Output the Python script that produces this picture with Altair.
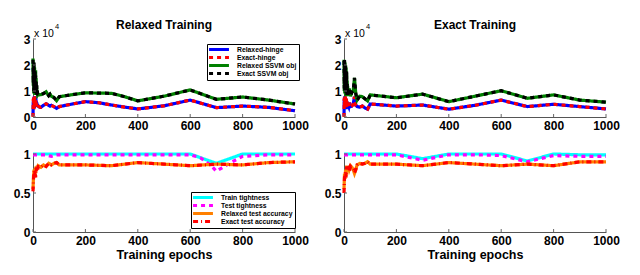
import altair as alt
import pandas as pd

F = "Liberation Sans"

# ---------------- axis ticks / labels ----------------
x_ticks = [0, 200, 400, 600, 800, 1000]
top_y_ticks = [0, 1, 2, 3]
bot_y_ticks = [0, 0.5, 1]
multiplier_text = ["x 10", "4"]
panel_titles = ["Relaxed Training", "Exact Training"]
x_title = "Training epochs"

# ---------------- series names / styles ----------------
top_series = ["Relaxed-hinge", "Exact-hinge", "Relaxed SSVM obj", "Exact SSVM obj"]
top_colors = ["#0000ff", "#ff0000", "#008000", "#000000"]
top_dashes = [[1, 0], [4, 4], [1, 0], [4, 4]]
bot_series = ["Train tightness", "Test tightness", "Relaxed test accuracy", "Exact test accuracy"]
bot_colors = ["#00ffff", "#ff00ff", "#ff8000", "#ff0000"]
bot_dashes = [[1, 0], [4, 4], [1, 0], [5, 3, 1, 3]]

# ---------------- top-left: Relaxed Training (values x 10^4) ----------------
ep_tl = [0, 1, 2, 3, 4, 5, 6, 7, 8, 9, 10, 11, 12, 13, 14, 15, 16, 18, 20, 25, 30,
         40, 50, 60, 65, 70, 80, 90, 100, 150, 200, 250, 300, 350, 400, 500, 600,
         700, 800, 900, 1000]
tl_relaxed_hinge = [0.05, 0.6, 0.3, 0.75, 0.4, 0.8, 0.35, 0.7, 0.45, 0.8, 0.5, 0.75, 0.4, 0.6,
                    0.45, 0.55, 0.4, 0.45, 0.42, 0.38, 0.37, 0.45, 0.51, 0.45, 0.42, 0.45,
                    0.4, 0.33, 0.40, 0.5, 0.59, 0.55, 0.46, 0.38, 0.31, 0.43, 0.65, 0.36,
                    0.42, 0.37, 0.24]
tl_exact_hinge = [0.0, 0.7, 0.35, 0.8, 0.3, 0.75, 0.4, 0.8, 0.4, 0.7, 0.55, 0.65, 0.45, 0.6,
                  0.4, 0.5, 0.42, 0.44, 0.42, 0.38, 0.37, 0.45, 0.51, 0.45, 0.42, 0.45,
                  0.4, 0.33, 0.40, 0.5, 0.59, 0.55, 0.46, 0.38, 0.31, 0.43, 0.65, 0.36,
                  0.42, 0.37, 0.24]
tl_relaxed_obj = [2.25, 1.2, 2.1, 0.9, 2.0, 1.0, 1.9, 0.85, 1.7, 1.0, 1.8, 0.9, 1.5, 0.85,
                  1.2, 0.9, 1.0, 0.85, 0.88, 0.85, 0.86, 0.9, 0.97, 0.82, 0.88, 0.8, 0.75,
                  0.63, 0.78, 0.86, 0.93, 0.92, 0.91, 0.78, 0.62, 0.8, 1.04, 0.68, 0.77,
                  0.65, 0.5]
tl_exact_obj = [2.2, 1.3, 2.0, 1.0, 2.1, 0.9, 1.8, 0.9, 1.75, 1.1, 1.6, 0.95, 1.4, 0.9,
                1.3, 0.85, 1.05, 0.88, 0.88, 0.85, 0.86, 0.9, 0.97, 0.82, 0.88, 0.8, 0.75,
                0.63, 0.78, 0.86, 0.93, 0.92, 0.91, 0.78, 0.62, 0.8, 1.04, 0.68, 0.77,
                0.65, 0.5]

# ---------------- top-right: Exact Training (values x 10^4) ----------------
ep_tr = [0, 1, 2, 3, 4, 5, 6, 7, 8, 9, 10, 11, 12, 13, 14, 15, 16, 18, 20, 25, 30, 35,
         40, 45, 50, 60, 70, 80, 90, 100, 200, 300, 400, 500, 600, 700, 800, 900, 1000]
tr_relaxed_hinge = [0.05, 0.7, 0.3, 0.8, 0.35, 0.75, 0.4, 0.6, 0.3, 0.7, 0.5, 0.6, 0.35, 0.55,
                    0.4, 0.5, 0.45, 0.4, 0.55, 0.4, 0.42, 0.5, 0.78, 0.45, 0.4, 0.38, 0.42,
                    0.35, 0.3, 0.5, 0.42, 0.46, 0.3, 0.45, 0.65, 0.4, 0.49, 0.4, 0.31]
tr_exact_hinge = [0.0, 0.75, 0.35, 0.7, 0.4, 0.8, 0.35, 0.65, 0.35, 0.75, 0.45, 0.6, 0.4, 0.5,
                  0.45, 0.5, 0.42, 0.42, 0.55, 0.4, 0.42, 0.5, 0.78, 0.45, 0.4, 0.38, 0.42,
                  0.35, 0.3, 0.5, 0.42, 0.46, 0.3, 0.45, 0.65, 0.4, 0.49, 0.4, 0.31]
tr_relaxed_obj = [2.2, 1.0, 2.15, 0.9, 2.1, 1.1, 2.0, 0.8, 1.9, 1.0, 1.7, 0.8, 1.4, 0.9,
                  1.2, 0.8, 1.0, 0.9, 1.1, 0.8, 0.95, 1.0, 1.5, 0.9, 0.65, 0.8, 0.78, 0.7,
                  0.62, 0.85, 0.74, 0.88, 0.59, 0.8, 1.01, 0.72, 0.85, 0.65, 0.57]
tr_exact_obj = [2.15, 1.1, 2.2, 1.0, 2.0, 1.0, 1.95, 0.9, 1.8, 0.9, 1.75, 0.85, 1.3, 1.0,
                1.1, 0.85, 1.05, 0.9, 1.1, 0.8, 0.95, 1.0, 1.5, 0.9, 0.65, 0.8, 0.78, 0.7,
                0.62, 0.85, 0.74, 0.88, 0.59, 0.8, 1.01, 0.72, 0.85, 0.65, 0.57]

# ---------------- bottom-left ----------------
ep_bl_train = [0, 100, 200, 300, 400, 500, 600, 700, 800, 900, 1000]
bl_train_tight = [1.0, 1.0, 1.0, 1.0, 1.0, 1.0, 1.0, 0.88, 1.0, 1.0, 1.0]
ep_bl_test = [0, 50, 70, 90, 100, 200, 300, 400, 500, 600, 640, 680, 700, 720, 760, 800,
              900, 1000]
bl_test_tight = [0.99, 0.99, 0.97, 0.99, 0.99, 0.99, 0.99, 0.99, 0.99, 0.99, 0.95, 0.85,
                 0.78, 0.82, 0.9, 0.97, 0.99, 0.99]
ep_bl_acc = [0, 2, 4, 6, 8, 10, 12, 14, 16, 18, 20, 30, 40, 50, 60, 70, 80, 90, 100, 200,
             300, 400, 500, 600, 700, 800, 900, 1000]
bl_relaxed_acc = [0.55, 0.72, 0.8, 0.7, 0.82, 0.75, 0.84, 0.8, 0.85, 0.82, 0.85, 0.83, 0.86,
                  0.84, 0.88, 0.86, 0.88, 0.89, 0.86, 0.86, 0.85, 0.89, 0.87, 0.85, 0.87,
                  0.86, 0.89, 0.9]
bl_exact_acc = [0.52, 0.68, 0.78, 0.72, 0.8, 0.7, 0.83, 0.78, 0.84, 0.8, 0.84, 0.83, 0.86,
                0.84, 0.88, 0.86, 0.88, 0.89, 0.86, 0.86, 0.85, 0.89, 0.87, 0.85, 0.87,
                0.86, 0.89, 0.9]

# ---------------- bottom-right ----------------
ep_br_tight = [0, 100, 200, 300, 400, 500, 600, 700, 800, 900, 1000]
br_train_tight = [1.0, 1.0, 1.0, 0.94, 1.0, 1.0, 1.0, 0.91, 1.0, 0.99, 0.99]
br_test_tight = [0.99, 0.99, 0.99, 0.92, 0.99, 0.99, 0.98, 0.9, 0.98, 0.97, 0.97]
ep_br_acc = [0, 2, 4, 6, 8, 10, 14, 18, 20, 25, 30, 35, 40, 45, 50, 60, 70, 80, 90, 100,
             200, 300, 400, 500, 600, 700, 800, 900, 1000]
br_relaxed_acc = [0.55, 0.75, 0.68, 0.8, 0.72, 0.85, 0.78, 0.83, 0.8, 0.85, 0.83, 0.8, 0.75,
                  0.8, 0.86, 0.88, 0.87, 0.88, 0.9, 0.87, 0.87, 0.85, 0.89, 0.87, 0.85,
                  0.87, 0.85, 0.9, 0.9]
br_exact_acc = [0.5, 0.7, 0.72, 0.78, 0.7, 0.84, 0.8, 0.82, 0.78, 0.84, 0.82, 0.8, 0.76,
                0.8, 0.86, 0.88, 0.87, 0.88, 0.9, 0.87, 0.87, 0.85, 0.89, 0.87, 0.85,
                0.87, 0.85, 0.9, 0.9]


def long_df(pairs):
    rows = []
    for name, (eps, vals) in pairs.items():
        for e, v in zip(eps, vals):
            rows.append({"series": name, "epoch": e, "value": v})
    return pd.DataFrame(rows)


df_tl = long_df({top_series[0]: (ep_tl, tl_relaxed_hinge), top_series[1]: (ep_tl, tl_exact_hinge),
                 top_series[2]: (ep_tl, tl_relaxed_obj), top_series[3]: (ep_tl, tl_exact_obj)})
df_tr = long_df({top_series[0]: (ep_tr, tr_relaxed_hinge), top_series[1]: (ep_tr, tr_exact_hinge),
                 top_series[2]: (ep_tr, tr_relaxed_obj), top_series[3]: (ep_tr, tr_exact_obj)})
df_bl = long_df({bot_series[0]: (ep_bl_train, bl_train_tight), bot_series[1]: (ep_bl_test, bl_test_tight),
                 bot_series[2]: (ep_bl_acc, bl_relaxed_acc), bot_series[3]: (ep_bl_acc, bl_exact_acc)})
df_br = long_df({bot_series[0]: (ep_br_tight, br_train_tight), bot_series[1]: (ep_br_tight, br_test_tight),
                 bot_series[2]: (ep_br_acc, br_relaxed_acc), bot_series[3]: (ep_br_acc, br_exact_acc)})

W, H = 262, 78


def make_legend(lx, ly, row_h):
    return alt.Legend(orient="none", legendX=lx, legendY=ly, title=None,
                      symbolType="M-3,0H3", symbolSize=44, symbolStrokeWidth=3,
                      symbolOffset=5, labelOffset=13, clipHeight=row_h,
                      labelFont=F, labelFontWeight="bold", labelFontSize=6.8,
                      labelColor="black", labelLimit=200,
                      strokeColor="black", fillColor="white", padding=2,
                      rowPadding=0)


def panel(df, series, colors, dashes, ydom, yticks, title=None, xtitle=None,
          legend=None, expo=False):
    xs = alt.Scale(domain=[0, 1000], nice=False, zero=False)
    ys = alt.Scale(domain=ydom, nice=False, zero=False)
    xaxis = alt.Axis(values=x_ticks, format="d", title=xtitle, labelPadding=3,
                     titlePadding=2, labelFlush=False)
    yaxis = alt.Axis(values=yticks, format="g", title=None, labelPadding=3)
    cs = alt.Scale(domain=series, range=colors)
    ds = alt.Scale(domain=series, range=dashes)
    layers = []
    for s in series:
        layers.append(
            alt.Chart(df).transform_filter(alt.datum.series == s)
            .mark_line(strokeWidth=3.2, strokeCap="butt")
            .encode(
                x=alt.X("epoch:Q", scale=xs, axis=xaxis),
                y=alt.Y("value:Q", scale=ys, axis=yaxis),
                color=alt.Color("series:N", scale=cs, legend=legend),
                strokeDash=alt.StrokeDash("series:N", scale=ds, legend=legend),
            )
        )
    xt = alt.Chart(pd.DataFrame({"epoch": x_ticks})).mark_rule(color="#666", strokeWidth=1).encode(
        x=alt.X("epoch:Q", scale=xs, axis=xaxis), y=alt.value(H), y2=alt.value(H - 3))
    yt = alt.Chart(pd.DataFrame({"value": yticks})).mark_rule(color="#666", strokeWidth=1).encode(
        y=alt.Y("value:Q", scale=ys, axis=yaxis), x=alt.value(0), x2=alt.value(3))
    layers += [xt, yt]
    if expo:
        tdf = pd.DataFrame({"base": [multiplier_text[0]], "pow": [multiplier_text[1]]})
        t1 = alt.Chart(tdf).mark_text(align="left", baseline="alphabetic", fontSize=10.5,
                                      font=F, color="black").encode(
            text="base:N", x=alt.value(1), y=alt.value(-2))
        t2 = alt.Chart(tdf).mark_text(align="left", baseline="alphabetic", fontSize=7.5,
                                      font=F, color="black").encode(
            text="pow:N", x=alt.value(22), y=alt.value(-10))
        layers += [t1, t2]
    if title:
        ttl = alt.Chart(pd.DataFrame({"t": [title]})).mark_text(
            align="center", baseline="alphabetic", fontSize=12, fontWeight="bold",
            font=F, color="black").encode(text="t:N", x=alt.value(W / 2), y=alt.value(-10))
        layers.append(ttl)
    return alt.layer(*layers).properties(width=W, height=H)


tl = panel(df_tl, top_series, top_colors, top_dashes, [0, 3], top_y_ticks,
           title=panel_titles[0], legend=make_legend(174, 5, 7.0), expo=True)
tr = panel(df_tr, top_series, top_colors, top_dashes, [0, 3], top_y_ticks,
           title=panel_titles[1], legend=None, expo=True)
bl = panel(df_bl, bot_series, bot_colors, bot_dashes, [0, 1], bot_y_ticks,
           xtitle=x_title, legend=make_legend(158, 38, 7.2))
br = panel(df_br, bot_series, bot_colors, bot_dashes, [0, 1], bot_y_ticks,
           xtitle=x_title, legend=None)

chart = (
    alt.concat(tl, tr, bl, br, columns=2, spacing={"row": 37, "column": 49}, bounds="flush")
    .resolve_scale(color="independent", strokeDash="independent")
    .properties(padding={"left": 5, "top": 11, "right": 5, "bottom": 2})
    .configure_view(stroke=None)
    .configure_axis(labelFont=F, labelFontWeight="bold", labelFontSize=12, labelColor="black",
                    domainColor="#555", domainWidth=1, tickSize=0, grid=False,
                    titleFont=F, titleFontWeight="bold", titleFontSize=12.5, titleColor="black")
)

chart.save("out.html", embed_options={"renderer": "svg", "actions": False})
